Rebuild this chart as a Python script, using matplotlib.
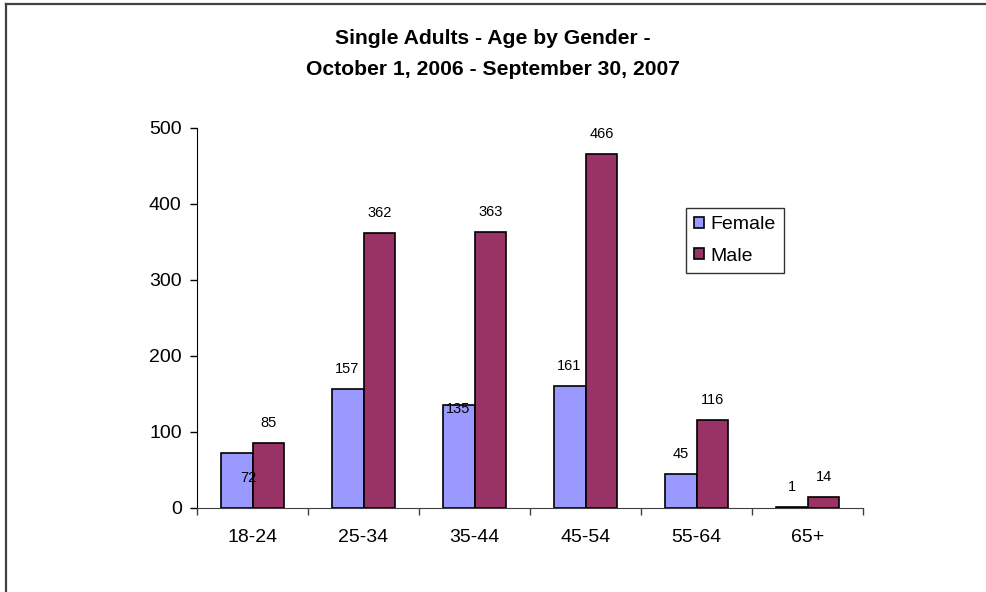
import matplotlib
matplotlib.use("Agg")
import matplotlib.pyplot as plt
from matplotlib.lines import Line2D
import numpy as np

categories = ["18-24", "25-34", "35-44", "45-54", "55-64", "65+"]
female = [72, 157, 135, 161, 45, 1]
male = [85, 362, 363, 466, 116, 14]
series_names = ["Female", "Male"]
title = "Single Adults - Age by Gender -\nOctober 1, 2006 - September 30, 2007"
yticks = [0, 100, 200, 300, 400, 500]

plt.rcParams['font.family'] = ['Liberation Sans', 'DejaVu Sans']

fig = plt.figure(figsize=(9.87, 5.92), dpi=100)
ax = fig.add_axes([0.1996, 0.1419, 0.8744 - 0.1996, 0.7838 - 0.1419])

x = np.arange(len(categories))
w = 0.288
ax.bar(x - w / 2, female, w, color="#9999FF", edgecolor="black", linewidth=1.2, label=series_names[0])
ax.bar(x + w / 2, male, w, color="#993366", edgecolor="black", linewidth=1.2, label=series_names[1])

# data labels (two female labels were displaced in the original)
f_offsets = {0: (12, -25), 2: (0, -4)}
for i, v in enumerate(female):
    off = f_offsets.get(i, (0, 20))
    ax.annotate(str(v), (x[i] - w / 2, v), xytext=off, textcoords="offset pixels",
                ha="center", va="center", fontsize=10.5)
for i, v in enumerate(male):
    ax.annotate(str(v), (x[i] + w / 2, v), xytext=(0, 20), textcoords="offset pixels",
                ha="center", va="center", fontsize=10.5)

ax.set_xlim(-0.5, len(categories) - 0.5)
ax.set_ylim(0, 500)
ax.set_yticks(yticks)
ax.set_yticklabels([str(t) for t in yticks], fontsize=14)
ax.tick_params(axis="y", direction="out", length=5, width=1, pad=6)
ax.set_xticks(x)
ax.set_xticklabels(categories, fontsize=14)
ax.tick_params(axis="x", which="major", length=0, pad=15)
ax.set_xticks(np.arange(-0.5, len(categories), 1.0), minor=True)
ax.tick_params(axis="x", which="minor", direction="out", length=5, width=1, color="#404040")

for s in ["top", "right"]:
    ax.spines[s].set_visible(False)
ax.spines["left"].set_color("black")
ax.spines["bottom"].set_color("#404040")

leg = ax.legend(loc="upper left", bbox_to_anchor=((686 - 197) / 666, (508 - 208) / 380),
                fontsize=14, frameon=True, fancybox=False, edgecolor="black",
                handlelength=0.5, handleheight=0.5, handletextpad=0.35,
                labelspacing=0.75, borderpad=0.42, borderaxespad=0)
leg.get_frame().set_linewidth(1)
leg._legend_box.align = "left"

fig.text(0.5 - 0.001, 1 - 54 / 592, title, ha="center", va="center", fontsize=15.2,
         fontweight="bold", linespacing=1.8)

# outer chart border (left and top visible)
fig.add_artist(Line2D([6 / 987, 6 / 987], [0, 1 - 4 / 592], transform=fig.transFigure,
                      color="#404040", linewidth=1.6))
fig.add_artist(Line2D([6 / 987, 1], [1 - 4 / 592, 1 - 4 / 592], transform=fig.transFigure,
                      color="#404040", linewidth=1.6))

fig.savefig("out.png", dpi=100)
